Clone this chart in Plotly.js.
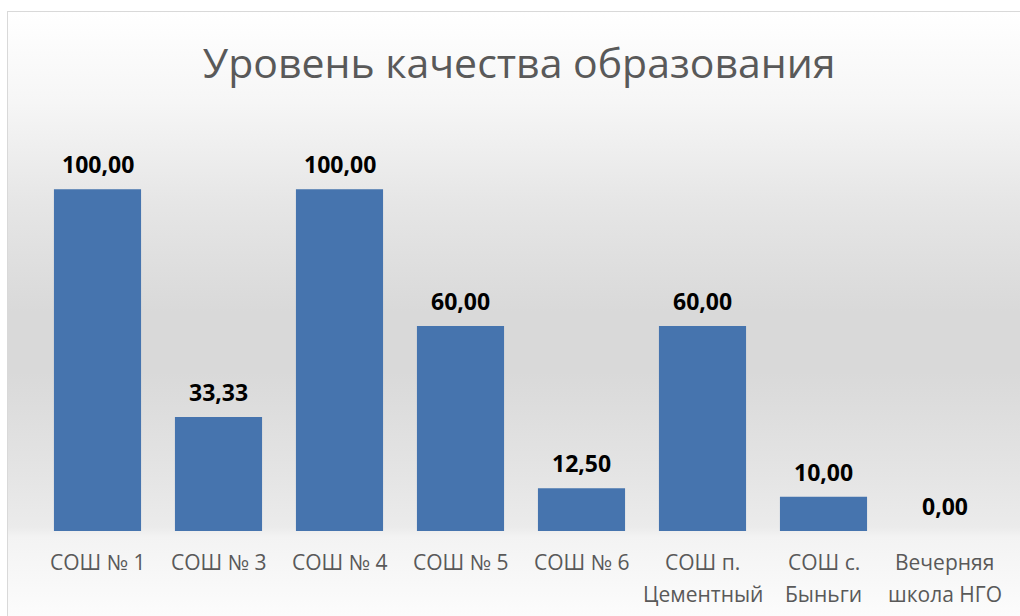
<!DOCTYPE html>
<html>
<head>
<meta charset="utf-8">
<script src="https://cdn.plot.ly/plotly-3.0.1.min.js"></script>
<style>
  html, body { margin: 0; padding: 0; background: #ffffff; }
  #wrap { position: relative; width: 1020px; height: 616px; overflow: hidden; }
  #bg {
    position: absolute; left: 7px; top: 11px; width: 1020px; height: 620px;
    border: 1px solid #d9d9d9;
    background: linear-gradient(to bottom, #ffffff 0px, #f6f6f6 90px, #e6e6e6 190px, #d9d9d9 300px, #d9d9d9 360px, #e3e3e3 450px, #ebebeb 515px, #f3f3f3 525px, #f7f7f7 560px, #fcfcfc 605px);
  }
  #chart { position: absolute; left: 0; top: 0; width: 1020px; height: 616px; }
</style>
</head>
<body>
<div id="wrap">
  <div id="bg"></div>
  <div id="chart"></div>
</div>
<script>
const categories = ["СОШ № 1", "СОШ № 3", "СОШ № 4", "СОШ № 5", "СОШ № 6", "СОШ п.|Цементный", "СОШ с.|Быньги", "Вечерняя|школа НГО"];
const values = [100.00, 33.33, 100.00, 60.00, 12.50, 60.00, 10.00, 0.00];
const valueLabels = values.map(v => v.toFixed(2).replace('.', ','));
const titleText = "Уровень качества образования";

const trace = {
  type: 'bar',
  x: categories,
  y: values,
  marker: { color: '#4674ae', line: { width: 0 } },
  hoverinfo: 'none'
};

const annotations = [];
values.forEach((v, i) => {
  annotations.push({
    x: categories[i], y: v, xref: 'x', yref: 'y',
    text: valueLabels[i], showarrow: false,
    xanchor: 'center', yanchor: 'bottom', yshift: 7,
    font: { family: 'Open Sans, sans-serif', size: 23, color: '#000000', weight: 'bold' }
  });
});
categories.forEach((c, i) => {
  c.split('|').forEach((line, k) => {
    annotations.push({
      x: c, y: 0, xref: 'x', yref: 'paper',
      text: line, showarrow: false,
      xanchor: 'center', yanchor: 'middle', yshift: -31 - 32 * k,
      font: { family: 'Open Sans, sans-serif', size: 21, color: '#595959' }
    });
  });
});

const layout = {
  width: 1020, height: 616,
  margin: { l: 37, r: 15, t: 121, b: 85 },
  paper_bgcolor: 'rgba(0,0,0,0)',
  plot_bgcolor: 'rgba(0,0,0,0)',
  bargap: 0.28,
  showlegend: false,
  title: {
    text: titleText,
    x: 0.509, xanchor: 'center',
    y: 0.897, yanchor: 'middle',
    font: { family: 'Open Sans, sans-serif', size: 41, color: '#595959' }
  },
  xaxis: {
    type: 'category',
    showline: false, showgrid: false, zeroline: false, ticks: '',
    showticklabels: false
  },
  yaxis: {
    range: [0, 120], visible: false, showgrid: false, zeroline: false
  },
  annotations: annotations
};

Plotly.newPlot('chart', [trace], layout, { displayModeBar: false, staticPlot: true });
</script>
</body>
</html>
